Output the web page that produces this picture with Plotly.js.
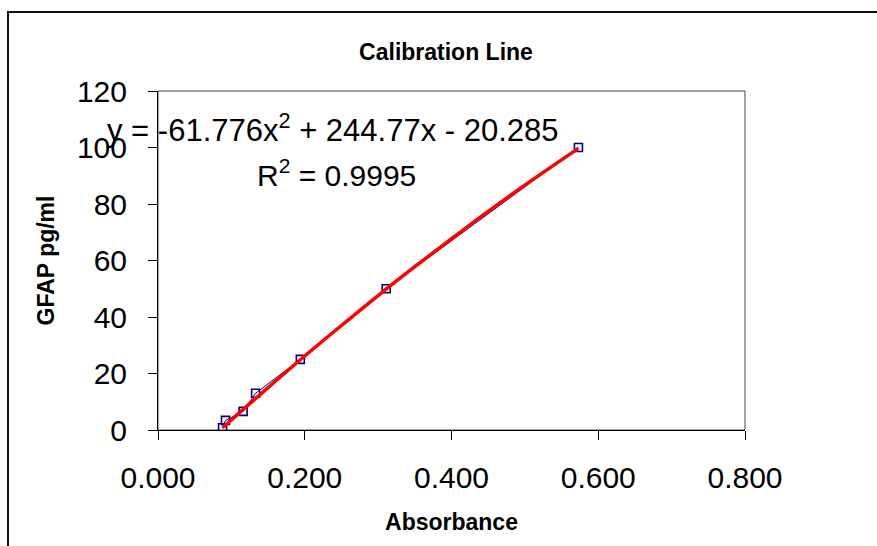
<!DOCTYPE html>
<html>
<head>
<meta charset="utf-8">
<script src="https://cdn.plot.ly/plotly-3.0.1.min.js"></script>
<style>
  html, body { margin: 0; padding: 0; background: #ffffff; overflow: hidden; }
  #frame { position: absolute; left: 7px; top: 11px; width: 1000px; height: 700px;
           border-left: 2px solid #111; border-top: 2px solid #111; box-sizing: border-box; }
  #chart { position: absolute; left: 0; top: 0; width: 877px; height: 546px; }
</style>
</head>
<body>
<div id="frame"></div>
<div id="chart"></div>
<script>
// Measured standards (absorbance vs GFAP concentration)
const absorbance = [0.088, 0.092, 0.116, 0.133, 0.194, 0.311, 0.573];
const gfap       = [0.8, 3.4, 6.6, 13.0, 25.0, 50.0, 100.0];

// Trendline
const trendX = [0.088, 0.15, 0.2, 0.25, 0.3, 0.35, 0.4, 0.45, 0.5, 0.573];
const trendY = [0.8, 15.0, 26.2, 37.0, 47.6, 57.8, 67.7, 77.4, 86.7, 99.7];

// Axis ticks
const xTicks = [0, 0.2, 0.4, 0.6, 0.8];
const xTickText = ['0.000', '0.200', '0.400', '0.600', '0.800'];
const yTicks = [0, 20, 40, 60, 80, 100, 120];

const equationText = 'y = -61.776x<sup>2</sup> + 244.77x - 20.285';
const r2Text = 'R<sup>2</sup> = 0.9995';

const FONT = 'Liberation Sans, Arial, Helvetica, sans-serif';

const traces = [
  {
    x: absorbance, y: gfap, type: 'scatter', mode: 'lines+markers',
    line: { color: '#000080', width: 1 },
    marker: { symbol: 'square-open', size: 8, color: '#000080', line: { width: 1.6, color: '#000080' } },
    hoverinfo: 'x+y', showlegend: false
  },
  {
    x: trendX, y: trendY, type: 'scatter', mode: 'lines',
    line: { color: '#ff0000', width: 3.5, shape: 'spline' },
    hoverinfo: 'skip', showlegend: false
  }
];

const layout = {
  width: 877, height: 546,
  margin: { l: 158, r: 132, t: 91, b: 116, pad: 0 },
  paper_bgcolor: 'rgba(0,0,0,0)',
  plot_bgcolor: '#ffffff',
  font: { family: FONT, color: '#000000' },
  showlegend: false,
  title: {
    text: '<b>Calibration Line</b>',
    font: { family: FONT, size: 23, color: '#000' },
    x: 446 / 877, xanchor: 'center', xref: 'container',
    y: 1 - 52 / 546, yanchor: 'middle', yref: 'container'
  },
  xaxis: {
    range: [0, 0.8], tickvals: xTicks, ticktext: xTickText,
    showgrid: false, zeroline: false, showline: true, linecolor: '#000', linewidth: 1,
    ticks: 'outside', ticklen: 9, tickcolor: '#000', tickwidth: 1,
    tickfont: { family: FONT, size: 30, color: '#000' },
    ticklabelstandoff: 12,
    title: { text: '<b>Absorbance</b>', font: { family: FONT, size: 23, color: '#000' }, standoff: 20 },
    fixedrange: true
  },
  yaxis: {
    range: [0, 120], tickvals: yTicks,
    showgrid: false, zeroline: false, showline: true, linecolor: '#000', linewidth: 1,
    ticks: 'outside', ticklen: 9, tickcolor: '#000', tickwidth: 1,
    tickfont: { family: FONT, size: 30, color: '#000' },
    ticklabelstandoff: 15,
    title: { text: '<b>GFAP pg/ml</b>', font: { family: FONT, size: 23, color: '#000' }, standoff: 15 },
    fixedrange: true
  },
  shapes: [
    { type: 'rect', xref: 'paper', yref: 'paper', x0: 0, x1: 1, y0: 0, y1: 1,
      line: { color: '#444', width: 1 }, fillcolor: 'rgba(0,0,0,0)', layer: 'below' }
  ],
  annotations: [
    { text: equationText, xref: 'x', yref: 'y', x: 0.239, y: 107.0, showarrow: false,
      xanchor: 'center', yanchor: 'middle', font: { family: FONT, size: 31, color: '#000' } },
    { text: r2Text, xref: 'x', yref: 'y', x: 0.243, y: 90.8, showarrow: false,
      xanchor: 'center', yanchor: 'middle', font: { family: FONT, size: 30, color: '#000' } }
  ]
};

Plotly.newPlot('chart', traces, layout, { staticPlot: true, displayModeBar: false });
</script>
</body>
</html>
